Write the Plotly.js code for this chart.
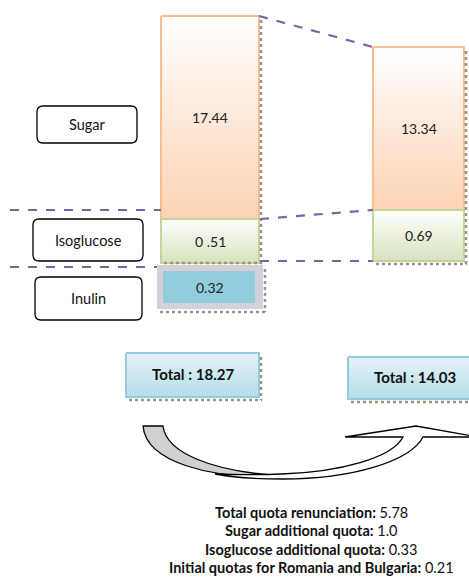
<!DOCTYPE html>
<html>
<head>
<meta charset="utf-8">
<script src="https://cdn.plot.ly/plotly-3.0.1.min.js"></script>
<style>html,body{margin:0;padding:0;background:#fff;}#chart{width:469px;height:585px;}</style>
</head>
<body>
<div id="chart"></div>
<script>
// ---- data ----
const categories = ['Sugar', 'Isoglucose', 'Inulin'];
const quotaBefore = [17.44, 0.51, 0.32];
const quotaAfter = [13.34, 0.69, null];
const labelsBefore = ['17.44', '0 .51', '0.32'];
const labelsAfter = ['13.34', '0.69', null];
const totals = [18.27, 14.03];
const noteLabels = ['Total quota renunciation:', 'Sugar additional quota:', 'Isoglucose additional quota:', 'Initial quotas for Romania and Bulgaria:'];
const noteValues = ['5.78', '1.0', '0.33', '0.21'];

// ---- schematic layout (pixel space) ----
const FONT = 'Lato, "Open Sans", sans-serif';
const colL = [161, 259], colR = [373, 464];
const rowsL = [[16, 219], [219, 263], [265, 309]];
const rowsR = [[47, 210], [210, 261]];
const fills = [
  {top: '#FFFFFF', bot: '#FCD3B4', line: '#F9BE8F'},
  {top: '#FFFFFF', bot: '#D6E3BC', line: '#C2D69A'},
  {top: '#D3D0DA', bot: '#D3D0DA', line: '#D3D0DA'}
];
const catBoxes = [[37, 106, 137, 143], [33, 219, 143, 261], [35, 277, 142, 320]];
const totalBoxes = [[126, 353, 259, 397], [348, 357, 478, 399]];
const DASH = '#8064A2';

const traces = [];
const shapes = [];
const annotations = [];

function rectTrace(x0, x1, y0, y1, f, lw) {
  traces.push({
    type: 'scatter', mode: 'lines', hoverinfo: 'skip', showlegend: false,
    x: [x0, x1, x1, x0, x0], y: [y0, y0, y1, y1, y0],
    fill: 'toself',
    fillgradient: {type: 'vertical', start: y0, stop: y1, colorscale: [[0, f.top], [1, f.bot]]},
    line: {color: f.line, width: lw}
  });
}
function shadow(x0, x1, y0, y1) {
  shapes.push({type: 'line', x0: x1 + 2, x1: x1 + 2, y0: y0 + 4, y1: y1 + 3, line: {color: '#9A9584', width: 2.5, dash: 'dot'}});
  shapes.push({type: 'line', x0: x0 + 3, x1: x1 + 3, y0: y1 + 3, y1: y1 + 3, line: {color: '#9A9584', width: 2.5, dash: 'dot'}});
}

// left column bars
quotaBefore.forEach((v, i) => {
  const [y0, y1] = rowsL[i];
  if (i === 2) {
    shadow(colL[0] - 4, colL[1] + 4, y0, y1);
    rectTrace(colL[0] - 4, colL[1] + 4, y0, y1, fills[2], 0);
    rectTrace(colL[0] + 2, colL[1] - 4, y0 + 6, y1 - 6, {top: '#92CDDC', bot: '#92CDDC', line: '#92CDDC'}, 0);
  } else {
    rectTrace(colL[0], colL[1], y0, y1, fills[i], 2);
  }
  annotations.push({x: (colL[0] + colL[1]) / 2, y: (y0 + y1) / 2, text: labelsBefore[i], showarrow: false,
    font: {family: FONT, size: 14, color: '#222'}});
});
shadow(colL[0], colL[1], rowsL[0][0], rowsL[1][1] - 3);

// right column bars
quotaAfter.forEach((v, i) => {
  if (v === null) return;
  const [y0, y1] = rowsR[i];
  rectTrace(colR[0], colR[1], y0, y1, fills[i], 2);
  annotations.push({x: (colR[0] + colR[1]) / 2, y: (y0 + y1) / 2, text: labelsAfter[i], showarrow: false,
    font: {family: FONT, size: 14, color: '#222'}});
});
shadow(colR[0], colR[1], rowsR[0][0], rowsR[1][1]);

// category label boxes
categories.forEach((c, i) => {
  const [x0, y0, x1, y1] = catBoxes[i], r = 6;
  shapes.push({type: 'path', layer: 'above',
    path: `M${x0 + r},${y0} L${x1 - r},${y0} Q${x1},${y0} ${x1},${y0 + r} L${x1},${y1 - r} Q${x1},${y1} ${x1 - r},${y1} L${x0 + r},${y1} Q${x0},${y1} ${x0},${y1 - r} L${x0},${y0 + r} Q${x0},${y0} ${x0 + r},${y0} Z`,
    line: {color: '#000', width: 1.3}, fillcolor: '#fff'});
  annotations.push({x: (x0 + x1) / 2, y: (y0 + y1) / 2, text: c, showarrow: false,
    font: {family: FONT, size: 14.5, color: '#111'}});
});

// dashed connectors
const dl = (x0, y0, x1, y1) => shapes.push({type: 'line', x0, y0, x1, y1, layer: 'above', line: {color: DASH, width: 2.2, dash: 'dash'}});
dl(colL[1], rowsL[0][0], colR[0], rowsR[0][0]);
dl(10, rowsR[1][0], colL[0], rowsR[1][0]);
dl(colL[1] + 1, rowsL[1][0], colR[0], rowsR[1][0]);
dl(10, 267, colL[0] - 4, 267);
dl(colL[1] + 1, rowsR[1][1], colR[0], rowsR[1][1]);

// total boxes
totals.forEach((t, i) => {
  const [x0, y0, x1, y1] = totalBoxes[i];
  shadow(x0, x1, y0, y1);
  rectTrace(x0, x1, y0, y1, {top: '#E4F3F7', bot: '#B4DDE8', line: '#93CDDD'}, 2);
  annotations.push({x: i === 0 ? (x0 + x1) / 2 : 415, y: (y0 + y1) / 2 - 1, text: '<b>Total : ' + t.toFixed(2) + '</b>',
    showarrow: false, font: {family: FONT, size: 15, color: '#111'}});
});

// curved arrow
shapes.push({type: 'path', layer: 'above', fillcolor: '#D0D0D0', line: {color: '#000', width: 1.3},
  path: 'M143,426 L163,426 C166,452 210,472 285,476 C210,480 146,462 143,426 Z'});
shapes.push({type: 'path', layer: 'above', fillcolor: '#FFFFFF', line: {color: '#000', width: 1.3},
  path: 'M215,474 C235,478 255,479 283,479 C350,479 410,462 423,437 L478,437 L416,426 L345,437 L403,437 C392,458 340,472 282,474 C255,475 235,475 215,474 Z'});

// notes
noteLabels.forEach((l, i) => {
  annotations.push({x: 311, y: 512 + i * 18.5, text: '<b>' + l + '</b> ' + noteValues[i], showarrow: false,
    font: {family: FONT, size: 14.5, color: '#111'}});
});

const layout = {
  width: 469, height: 585,
  margin: {l: 0, r: 0, t: 0, b: 0},
  paper_bgcolor: '#fff', plot_bgcolor: '#fff',
  xaxis: {range: [0, 469], visible: false, fixedrange: true},
  yaxis: {range: [585, 0], visible: false, fixedrange: true},
  showlegend: false,
  shapes, annotations
};
Plotly.newPlot('chart', traces, layout, {displayModeBar: false, staticPlot: true});
</script>
</body>
</html>
